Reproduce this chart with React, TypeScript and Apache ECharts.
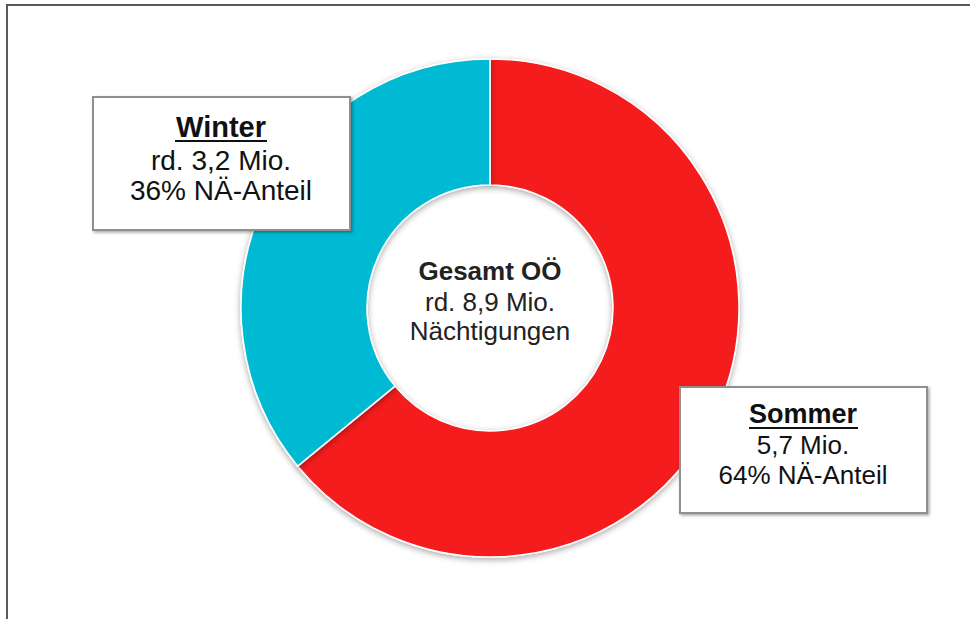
import React, { useEffect, useRef } from "react";
import * as echarts from "echarts";

const seasons = ["Sommer", "Winter"];
const nightsMio = [5.7, 3.2];
const sharePct = [64, 36];
const secondLines = ["5,7 Mio.", "rd. 3,2 Mio."];
const centerLines = ["Gesamt OÖ", "rd. 8,9 Mio.", "Nächtigungen"];
const colors = ["#F41B1D", "#00B9D3"];

const FONT = "'Liberation Sans', Arial, sans-serif";

export default function App() {
  const ref = useRef<HTMLDivElement>(null);
  useEffect(() => {
    if (!ref.current) return;
    const chart = echarts.init(ref.current, undefined, { renderer: "svg" });

    const box = (
      x: number, y: number, w: number, h: number,
      title: string, l2: string, l3: string,
      cx: number, ys: number[], fs: number, tfs: number, ul: [number, number, number]
    ) => ({
      type: "group",
      children: [
        {
          type: "rect",
          shape: { x, y, width: w, height: h },
          style: {
            fill: "#ffffff", stroke: "#8f8f8f", lineWidth: 2,
            shadowBlur: 3, shadowColor: "rgba(0,0,0,0.35)", shadowOffsetX: 1.5, shadowOffsetY: 1.5,
          },
          z: 10,
        },
        {
          type: "text", x: cx, y: ys[0], z: 11,
          style: { text: title, font: `bold ${tfs}px ${FONT}`, fill: "#111", align: "center", verticalAlign: "middle" },
        },
        {
          type: "line", z: 11,
          shape: { x1: ul[0], y1: ul[2], x2: ul[1], y2: ul[2] },
          style: { stroke: "#111", lineWidth: 2 },
        },
        {
          type: "text", x: cx, y: ys[1], z: 11,
          style: { text: l2, font: `${fs}px ${FONT}`, fill: "#111", align: "center", verticalAlign: "middle" },
        },
        {
          type: "text", x: cx, y: ys[2], z: 11,
          style: { text: l3, font: `${fs}px ${FONT}`, fill: "#111", align: "center", verticalAlign: "middle" },
        },
      ],
    });

    const option: any = {
      animation: false,
      backgroundColor: "#ffffff",
      series: [
        {
          type: "pie",
          center: [490, 308],
          radius: [123, 249],
          startAngle: 90,
          clockwise: true,
          label: { show: false },
          labelLine: { show: false },
          emphasis: { disabled: true },
          itemStyle: {
            borderColor: "#ffffff",
            borderWidth: 1.5,
            shadowBlur: 6,
            shadowColor: "rgba(0,0,0,0.35)",
            shadowOffsetY: 2,
          },
          data: seasons.map((s, i) => ({
            name: s,
            value: nightsMio[i],
            itemStyle: { color: colors[i] },
          })),
        },
      ],
      graphic: [
        {
          type: "rect",
          shape: { x: 7, y: 5, width: 1200, height: 1000 },
          style: { fill: "none", stroke: "#5a5a5a", lineWidth: 2 },
          z: 1,
        },
        box(93, 97, 257, 133, seasons[1], secondLines[1], `${sharePct[1]}% NÄ-Anteil`,
          221, [127, 160, 190], 28, 29, [175, 267, 141]),
        box(680, 387, 247, 126, seasons[0], secondLines[0], `${sharePct[0]}% NÄ-Anteil`,
          803, [414, 445, 475], 26, 27, [749, 858, 428]),
        {
          type: "text", x: 490, y: 271, z: 11,
          style: { text: centerLines[0], font: `bold 26px ${FONT}`, fill: "#222", align: "center", verticalAlign: "middle" },
        },
        {
          type: "text", x: 490, y: 302, z: 11,
          style: { text: centerLines[1], font: `26px ${FONT}`, fill: "#222", align: "center", verticalAlign: "middle" },
        },
        {
          type: "text", x: 490, y: 331, z: 11,
          style: { text: centerLines[2], font: `26px ${FONT}`, fill: "#222", align: "center", verticalAlign: "middle" },
        },
      ],
    };
    chart.setOption(option);
    return () => chart.dispose();
  }, []);
  return (
    <div
      ref={ref}
      style={{ position: "fixed", left: 0, top: 0, width: 970, height: 619 }}
    />
  );
}
